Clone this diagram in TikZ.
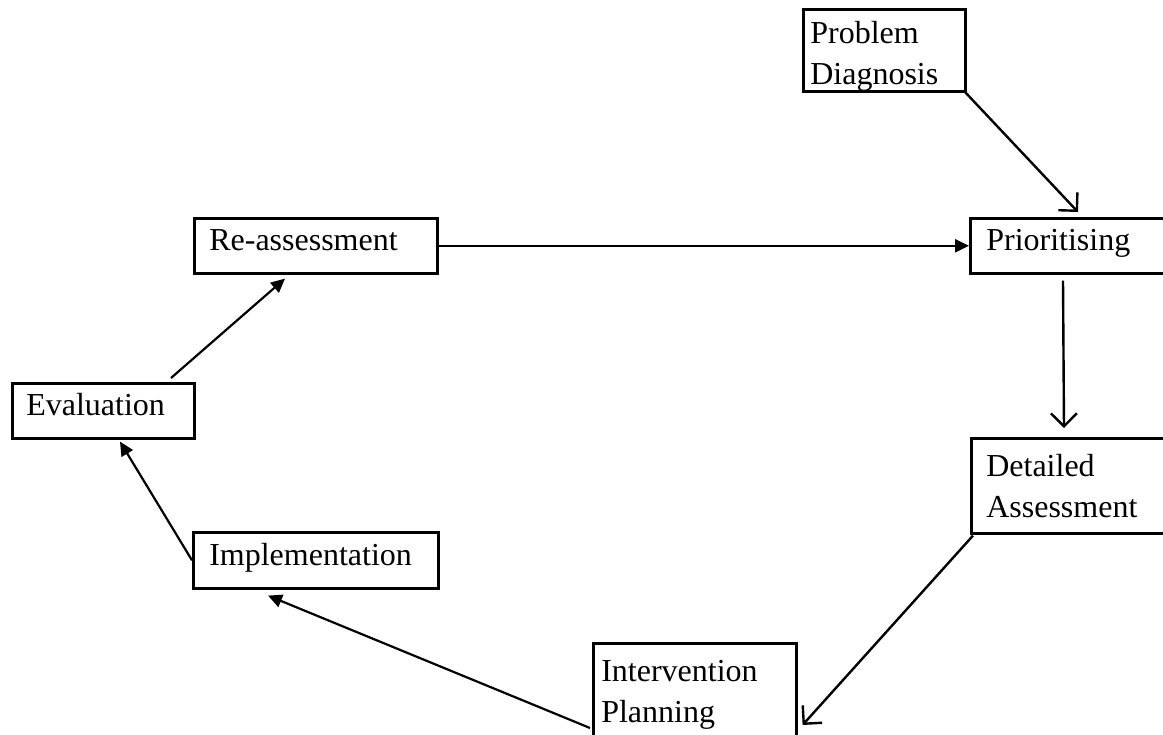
\documentclass[tikz,border=0pt]{standalone}
\usepackage{fontspec}
\setmainfont{Liberation Serif}
\usetikzlibrary{arrows.meta}

\tikzset{
  stage/.style={draw,line width=2.6pt,anchor=north west,align=left,inner ysep=2pt,
    font=\fontsize{32}{41}\selectfont},
  oneline/.style={text height=20pt,text depth=10pt},
  flow/.style={line width=2.2pt,-{Triangle[length=14pt,width=13pt]}},
  openflow/.style={line width=2.4pt,-{Straight Barb[length=13pt,width=26pt]}}
}

\begin{document}
\begin{tikzpicture}[x=1pt,y=1pt]
    \useasboundingbox (0,0) rectangle (1163,-735);
    % stages
    \node[stage,inner xsep=7pt,text width=148pt,text depth=36pt,minimum height=82pt] (diag) at (802,-8) {Problem\\Diagnosis};
    \node[stage,oneline,inner xsep=16pt,text width=260pt,minimum height=55pt] (prio) at (969,-217) {Prioritising};
    \node[stage,inner xsep=15pt,text width=260pt,minimum height=95pt] (detail) at (970,-437) {Detailed\\Assessment};
    \node[stage,inner xsep=8pt,text width=187pt,minimum height=104pt] (plan) at (592,-642) {Intervention\\Planning};
    \node[stage,oneline,inner xsep=16pt,text width=213pt,minimum height=56pt] (impl) at (192,-531) {Implementation};
    \node[stage,oneline,inner xsep=14pt,text width=154pt,minimum height=55pt] (eval) at (11,-382) {Evaluation};
    \node[stage,oneline,inner xsep=15pt,text width=213pt,minimum height=55pt] (reass) at (193,-217) {Re-assessment};
    % connectors
    \draw[openflow] ([xshift=-2pt,yshift=1pt]diag.south east) -- ([xshift=109pt,yshift=5pt]prio.north west);
    \draw[flow] (reass.east) -- (prio.west);
    \draw[openflow] ([xshift=94pt,yshift=-6pt]prio.south west) -- ([xshift=94pt,yshift=9pt]detail.north west);
    \draw[openflow] ([xshift=3pt,yshift=-1pt]detail.south west) -- ([xshift=5pt,yshift=-83pt]plan.north east);
    \draw[flow] ([xshift=-2pt,yshift=-86pt]plan.north west) -- ([xshift=76pt,yshift=-6pt]impl.south west);
    \draw[flow] (impl.west) -- ([xshift=109pt,yshift=-2pt]eval.south west);
    \draw[flow] ([xshift=160pt,yshift=4pt]eval.north west) -- ([xshift=92pt,yshift=-4pt]reass.south west);
\end{tikzpicture}
\end{document}
